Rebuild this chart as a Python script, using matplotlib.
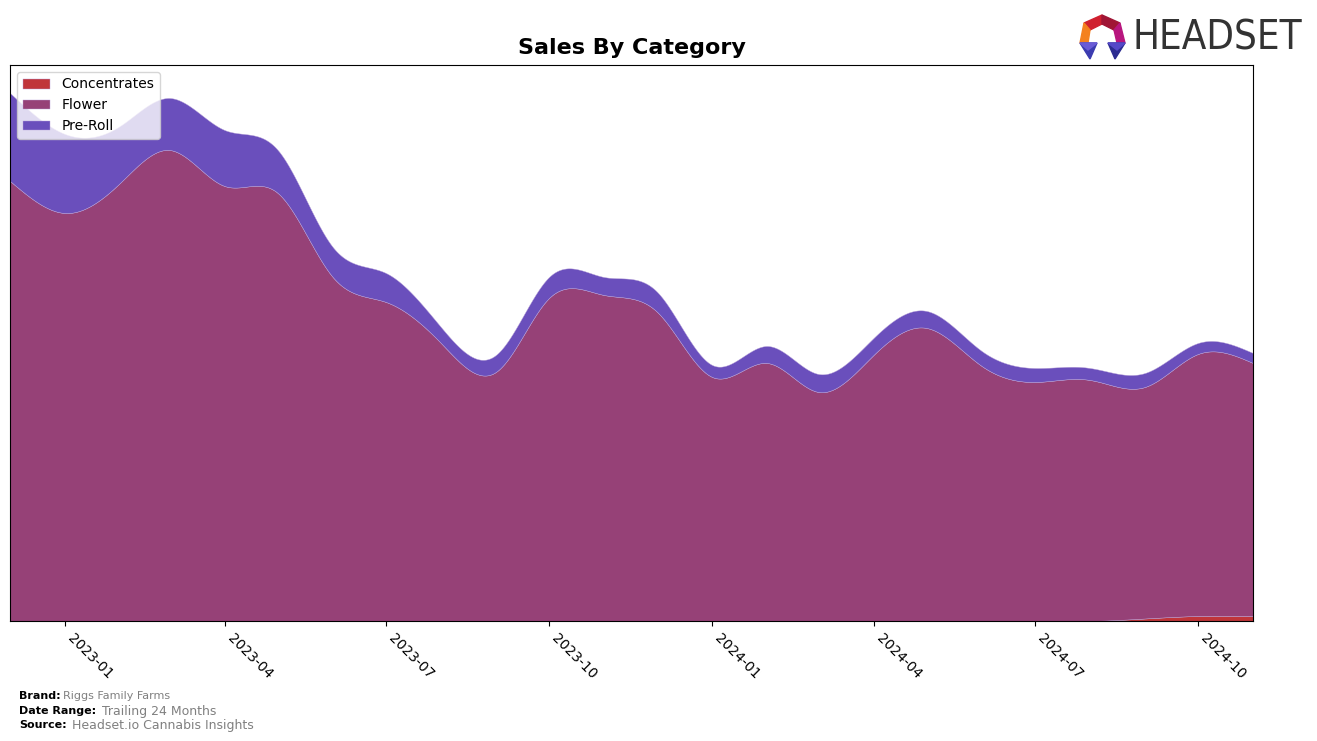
import numpy as np
import pandas as pd
import matplotlib
matplotlib.use("Agg")
import matplotlib.pyplot as plt
import matplotlib.dates as mdates
from matplotlib.patches import Polygon
from matplotlib import font_manager

# ---- data (monthly, arbitrary sales units) ----
months = pd.date_range("2022-12-01", periods=24, freq="MS")
categories = ["Concentrates", "Flower", "Pre-Roll"]
concentrates = [0, 0, 0, 0, 0, 0, 0, 0, 0, 0, 0, 0,
                0, 0, 0, 0, 0, 0, 0, 0, 0, 2.5, 5, 5]
flower_top = [440, 408, 438, 471, 435, 428, 344, 319, 278, 249, 323, 326,
              309, 244, 258, 229, 266, 293, 255, 239, 241, 234, 267, 258]
total_top = [528, 487, 495, 523, 491, 471, 374, 348, 294, 266, 344, 344,
             329, 256, 275, 247, 283, 310, 270, 253, 253, 248, 278, 268]
flower = [f - c for f, c in zip(flower_top, concentrates)]
preroll = [t - f for t, f in zip(total_top, flower_top)]
tick_labels = ["2023-01", "2023-04", "2023-07", "2023-10",
               "2024-01", "2024-04", "2024-07", "2024-10"]
colors = ["#C0353A", "#964177", "#6A4FBC"]


def natural_spline(x, y, xs):
    x = np.asarray(x, float)
    y = np.asarray(y, float)
    n = len(x)
    h = np.diff(x)
    A = np.zeros((n, n))
    b = np.zeros(n)
    A[0, 0] = 1
    A[-1, -1] = 1
    for i in range(1, n - 1):
        A[i, i - 1] = h[i - 1]
        A[i, i] = 2 * (h[i - 1] + h[i])
        A[i, i + 1] = h[i]
        b[i] = 3 * ((y[i + 1] - y[i]) / h[i] - (y[i] - y[i - 1]) / h[i - 1])
    c = np.linalg.solve(A, b)
    bb = (y[1:] - y[:-1]) / h - h * (2 * c[:-1] + c[1:]) / 3
    d = (c[1:] - c[:-1]) / (3 * h)
    idx = np.clip(np.searchsorted(x, xs) - 1, 0, n - 2)
    dx = xs - x[idx]
    return y[idx] + bb[idx] * dx + c[idx] * dx ** 2 + d[idx] * dx ** 3


xnum = mdates.date2num(months.to_pydatetime())
xs = np.linspace(xnum[0], xnum[-1], 800)
series = [np.clip(natural_spline(xnum, s, xs), 0, None)
          for s in (concentrates, flower, preroll)]

W, H = 1317, 741
fig = plt.figure(figsize=(W / 100, H / 100), dpi=100)
ax = fig.add_axes([10 / W, 1 - 621 / H, (1253 - 10) / W, (621 - 65) / H])
ax.stackplot(xs, *series, labels=categories, colors=colors, linewidth=0.3,
             edgecolor="#b9a3d9")
ax.set_xlim(xnum[0], xnum[-1])
ax.set_ylim(0, 556)
ax.set_yticks([])
tick_pos = [mdates.date2num(pd.Timestamp(t + "-01")) for t in tick_labels]
ax.set_xticks(tick_pos)
ax.set_xticklabels(tick_labels, rotation=-45, ha="left", fontsize=10)
ax.set_title("Sales By Category", fontsize=16, fontweight="bold", pad=8)
leg = ax.legend(loc="upper left", fontsize=10, framealpha=0.8)

# footer
fig.text(19 / W, 1 - 696 / H, "Brand:", fontsize=8, fontweight="bold", va="center")
fig.text(63 / W, 1 - 696 / H, "Riggs Family Farms", fontsize=8, color="#808080", va="center")
fig.text(19 / W, 1 - 711 / H, "Date Range:", fontsize=8, fontweight="bold", va="center")
fig.text(102 / W, 1 - 711 / H, "Trailing 24 Months", fontsize=9, color="#808080", va="center")
fig.text(19 / W, 1 - 725 / H, "Source:", fontsize=8, fontweight="bold", va="center")
fig.text(72 / W, 1 - 725 / H, "Headset.io Cannabis Insights", fontsize=9, color="#808080", va="center")

# logo text: pick a narrow font if available, then fit width to ~170 px
names = {f.name for f in font_manager.fontManager.ttflist}
logo_family = ["Liberation Sans Narrow"] if "Liberation Sans Narrow" in names else ["DejaVu Sans"]
logo = fig.text(1133 / W, 1 - 38 / H, "HEADSET", fontsize=34, color="#333333",
                va="center", ha="left", family=logo_family, fontstretch="condensed")
renderer = fig.canvas.get_renderer()
wpx = logo.get_window_extent(renderer).width
logo.set_fontsize(min(34, 34 * 170 / wpx))


def poly(pts, color):
    p = [(x / W, 1 - y / H) for x, y in pts]
    fig.patches.append(Polygon(p, closed=True, color=color, transform=fig.transFigure))


poly([(1102, 15), (1084, 23), (1090, 30), (1102, 24)], "#D0202F")
poly([(1102, 15), (1120, 23), (1114, 30), (1102, 24)], "#A01535")
poly([(1084, 23), (1080, 43), (1088, 43), (1090, 30)], "#F4811F")
poly([(1120, 23), (1125, 43), (1117, 43), (1114, 30)], "#B8167E")
poly([(1080, 43), (1097, 43), (1090, 59)], "#3B3BB0")
poly([(1080, 43), (1097, 43), (1088, 50)], "#6A5BD6")
poly([(1108, 43), (1125, 43), (1115, 59)], "#2B2B90")
poly([(1108, 43), (1125, 43), (1117, 50)], "#5548C8")

fig.savefig("out.png", dpi=100)
